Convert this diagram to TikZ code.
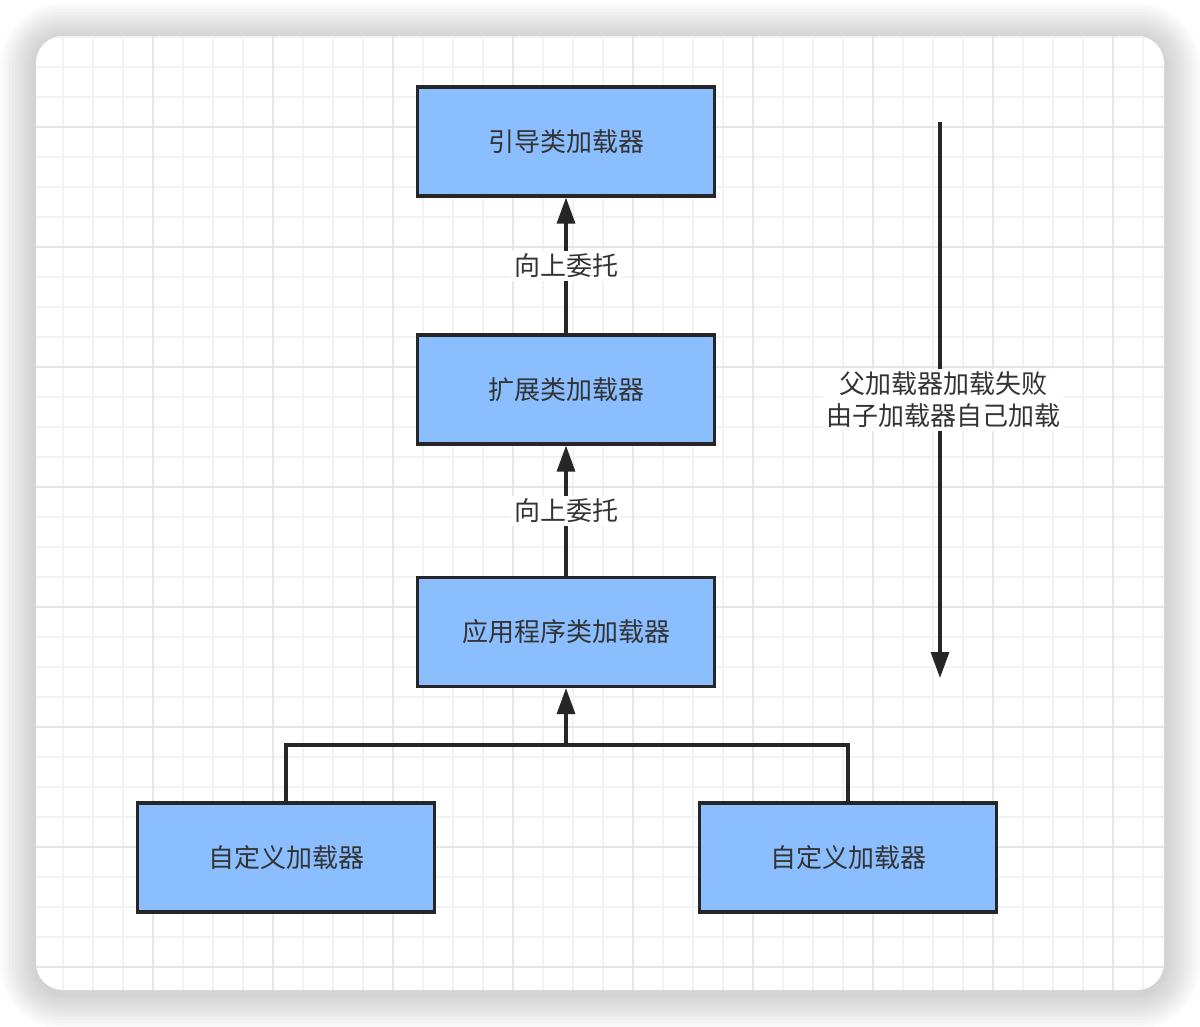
\documentclass[tikz,border=0pt]{standalone}
\usepackage{fontspec}
\setmainfont{Noto Sans CJK SC}
\usetikzlibrary{arrows.meta,positioning,calc}
\definecolor{clfill}{HTML}{8BBEFF}
\definecolor{clink}{HTML}{262626}
\definecolor{cltext}{HTML}{333333}
\definecolor{clgrid}{HTML}{F2F2F2}
\definecolor{clgridmaj}{HTML}{E6E6E6}
\tikzset{
  clbox/.style={draw=clink, fill=clfill, line width=3.2pt, minimum width=297pt, minimum height=109pt, inner sep=0pt, font=\fontsize{26}{32}\selectfont, text=cltext},
  clarrow/.style={-{Triangle[length=26pt, width=18pt]}, line width=3.2pt, draw=clink},
  clwire/.style={line width=3.2pt, draw=clink},
  cllabel/.style={fill=white, inner sep=3pt, font=\fontsize{26}{32}\selectfont, text=cltext, midway},
  clgridline/.style={draw=clgrid, line width=1.5pt},
  clgridmajor/.style={draw=clgridmaj, line width=1.5pt},
}

\begin{document}
\begin{tikzpicture}[x=1pt, y=-1pt]
  \useasboundingbox (0,0) rectangle (1200,1026);
  % card with soft shadow
  \foreach \r in {3,6,...,36}
    \fill[black, opacity=0.014, rounded corners={(27+\r)*1pt}] ({36-\r},{39-\r}) rectangle ({1164+\r},{993+\r});
  \fill[white, rounded corners=27pt] (36,36) rectangle (1164,990);
  \begin{scope}
    \clip[rounded corners=27pt] (36,36) rectangle (1164,990);
    \foreach \g in {33,63,...,1173} \draw[clgridline] (\g,36) -- (\g,990);
    \foreach \g in {37,67,...,997} \draw[clgridline] (36,\g) -- (1164,\g);
    \foreach \g in {33,153,...,1113} \draw[clgridmajor] (\g,36) -- (\g,990);
    \foreach \g in {7,127,...,967} \draw[clgridmajor] (36,\g) -- (1164,\g);
  \end{scope}

  \node[clbox] (boot) at (566,141.5) {引导类加载器};
  \node[clbox] (ext) at (566,389.5) {扩展类加载器};
  \node[clbox] (app) at (566,632) {应用程序类加载器};
  \node[clbox] (custl) at (286,857.5) {自定义加载器};
  \node[clbox] (custr) at (848,857.5) {自定义加载器};

  \draw[clarrow] (ext) -- node[cllabel] {向上委托} (boot);
  \draw[clarrow] (app) -- node[cllabel] {向上委托} (ext);

  \coordinate (merge) at (566,745);
  \draw[clwire] (custl.north) |- (merge);
  \draw[clwire] (custr.north) |- (merge);
  \draw[clarrow] (merge) -- (app.south);

  \coordinate (failtop) at (940,122);
  \coordinate (failbot) at (940,678);
  \draw[clarrow] (failtop) -- node[cllabel, align=center, xshift=3pt] {父加载器加载失败\\由子加载器自己加载} (failbot);
\end{tikzpicture}
\end{document}
